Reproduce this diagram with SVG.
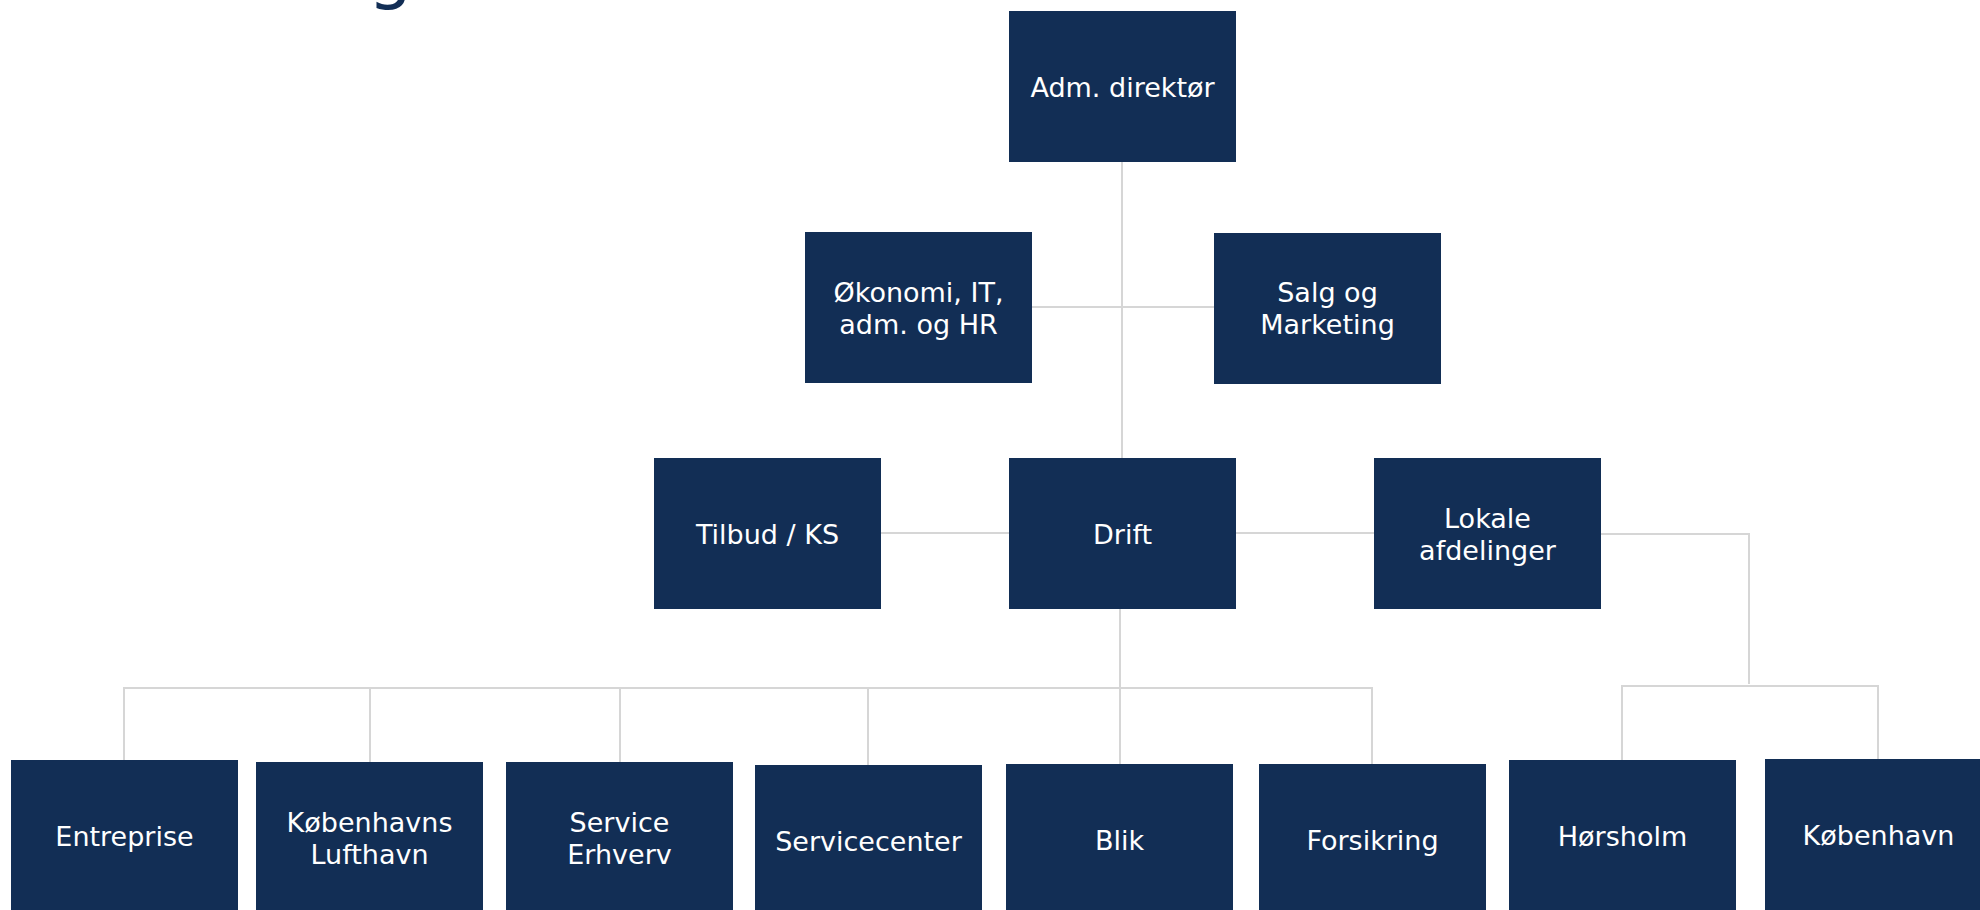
<svg xmlns="http://www.w3.org/2000/svg" width="1980" height="910" viewBox="0 0 1980 910">
<style>
.box{fill:#122e55}
.lbl{fill:#ffffff;font-family:"DejaVu Sans","Verdana",sans-serif;font-size:27px;text-anchor:middle}
.ln{fill:none;stroke:#d6d6d6;stroke-width:2}
.title{fill:#122e55;font-family:"DejaVu Sans","Verdana",sans-serif;font-size:70px}
</style>
<rect width="1980" height="910" fill="#ffffff"/>
<text class="title" x="368" y="-4">g</text>
<g id="connectors">
<path class="ln" d="M1122 162 V458"/>
<path class="ln" d="M1032 307 H1214"/>
<path class="ln" d="M881 533 H1009"/>
<path class="ln" d="M1236 533 H1374"/>
<path class="ln" d="M1120 609 V764"/>
<path class="ln" d="M124 760 V688 H1372 V764"/>
<path class="ln" d="M370 688 V762"/>
<path class="ln" d="M620 688 V762"/>
<path class="ln" d="M868 688 V765"/>
<path class="ln" d="M1601 534 H1749 V684"/>
<path class="ln" d="M1622 760 V686 H1878 V759"/>
</g>
<g id="adm"><rect class="box" x="1009" y="11" width="227" height="151"/><text class="lbl" x="1122.5" y="96.5">Adm. direktør</text></g>
<g id="okonomi"><rect class="box" x="805" y="232" width="227" height="151"/><text class="lbl" x="918.5" y="301.5">Økonomi, IT,</text><text class="lbl" x="918.5" y="333.5">adm. og HR</text></g>
<g id="salg"><rect class="box" x="1214" y="233" width="227" height="151"/><text class="lbl" x="1327.5" y="302">Salg og</text><text class="lbl" x="1327.5" y="334">Marketing</text></g>
<g id="tilbud"><rect class="box" x="654" y="458" width="227" height="151"/><text class="lbl" x="767.5" y="543.5">Tilbud / KS</text></g>
<g id="drift"><rect class="box" x="1009" y="458" width="227" height="151"/><text class="lbl" x="1122.5" y="543.5">Drift</text></g>
<g id="lokale"><rect class="box" x="1374" y="458" width="227" height="151"/><text class="lbl" x="1487.5" y="527.5">Lokale</text><text class="lbl" x="1487.5" y="559.5">afdelinger</text></g>
<g id="entreprise"><rect class="box" x="11" y="760" width="227" height="151"/><text class="lbl" x="124.5" y="845.5">Entreprise</text></g>
<g id="kbh-lufthavn"><rect class="box" x="256" y="762" width="227" height="151"/><text class="lbl" x="369.5" y="831.5">Københavns</text><text class="lbl" x="369.5" y="863.5">Lufthavn</text></g>
<g id="service-erhverv"><rect class="box" x="506" y="762" width="227" height="151"/><text class="lbl" x="619.5" y="831.5">Service</text><text class="lbl" x="619.5" y="863.5">Erhverv</text></g>
<g id="servicecenter"><rect class="box" x="755" y="765" width="227" height="151"/><text class="lbl" x="868.5" y="850.5">Servicecenter</text></g>
<g id="blik"><rect class="box" x="1006" y="764" width="227" height="151"/><text class="lbl" x="1119.5" y="849.5">Blik</text></g>
<g id="forsikring"><rect class="box" x="1259" y="764" width="227" height="151"/><text class="lbl" x="1372.5" y="849.5">Forsikring</text></g>
<g id="horsholm"><rect class="box" x="1509" y="760" width="227" height="151"/><text class="lbl" x="1622.5" y="845.5">Hørsholm</text></g>
<g id="kobenhavn"><rect class="box" x="1765" y="759" width="227" height="151"/><text class="lbl" x="1878.5" y="844.5">København</text></g>
</svg>
